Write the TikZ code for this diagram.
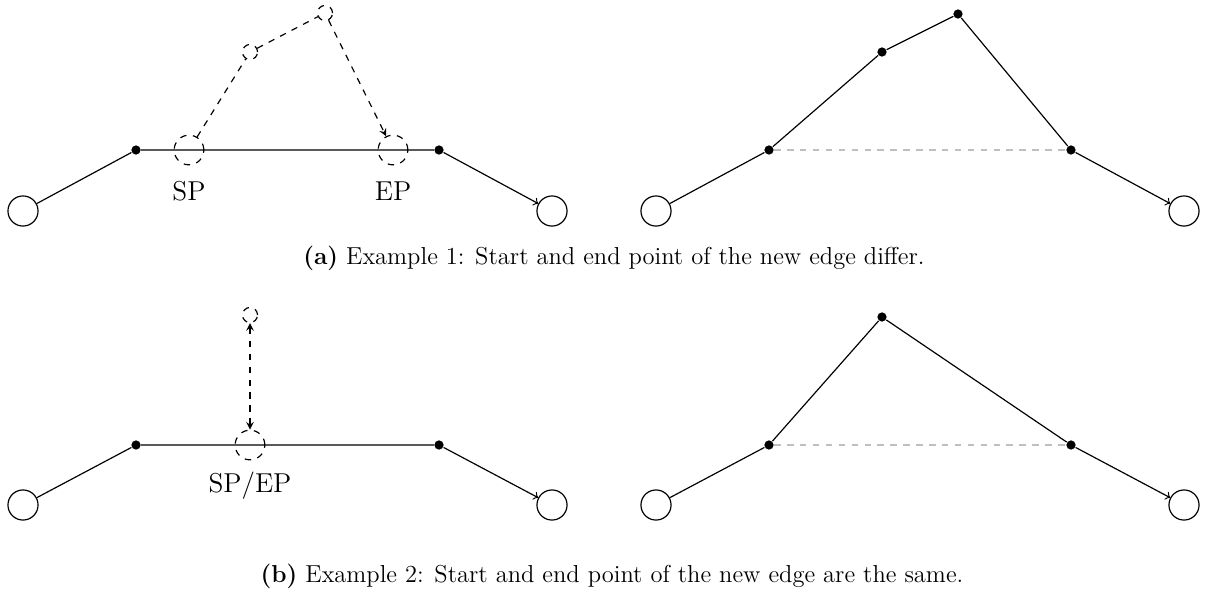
\documentclass[tikz,border=0pt]{standalone}
\usepackage{tikz}

\tikzset{
  endvertex/.style={circle, draw, inner sep=0pt, minimum size=14pt},
  bendpoint/.style={circle, fill=black, inner sep=0pt, minimum size=4.3pt},
  bigmarker/.style={circle, draw, dashed, inner sep=0pt, minimum size=13.8pt},
  smallmarker/.style={circle, draw, dashed, inner sep=0pt, minimum size=7pt},
  oldedge/.style={draw=black!25, dashed},
  moveline/.style={dashed, -stealth},
  pointlabel/.style={font=\fontsize{12.7}{15}\selectfont},
  caption/.style={font=\fontsize{11.4}{14}\selectfont},
}

\begin{document}
\begin{tikzpicture}[x=0.465pt, y=-0.465pt, line width=0.55pt]
  \useasboundingbox (0,0) rectangle (1206,595);

  % Example 1, before: dragging from SP over two points to EP
  \node[endvertex] (aL) at (23,211) {};
  \node[bendpoint] (a1) at (136,150) {};
  \node[bendpoint] (a2) at (439,150) {};
  \node[endvertex] (aR) at (552,211) {};
  \draw (aL) -- (a1) -- (a2);
  \draw[->] (a2) -- (aR);

  \node[bigmarker] (sp) at (189,150) {};
  \node[bigmarker] (ep) at (393,150) {};
  \node[smallmarker] (w1) at (250,52) {};
  \node[smallmarker] (w2) at (325,13) {};
  \draw[moveline] (sp) -- (w1) -- (w2) -- (ep);
  \node[pointlabel] (splbl) at (189,191) {SP};
  \node[pointlabel] (eplbl) at (393,191) {EP};

  % Example 1, after
  \node[endvertex] (bL) at (656,211) {};
  \node[bendpoint] (b1) at (769,150) {};
  \node[bendpoint] (b2) at (882,52) {};
  \node[bendpoint] (b3) at (958,14) {};
  \node[bendpoint] (b4) at (1071,150) {};
  \node[endvertex] (bR) at (1184,211) {};
  \draw[oldedge] (b1) -- (b4);
  \draw (bL) -- (b1) -- (b2) -- (b3) -- (b4);
  \draw[->] (b4) -- (bR);

  \node[caption] (capa) at (614,258) {\textbf{(a)} Example 1: Start and end point of the new edge differ.};

  % Example 2, before: SP and EP coincide
  \node[endvertex] (cL) at (23,505) {};
  \node[bendpoint] (c1) at (136,445) {};
  \node[bendpoint] (c2) at (439,445) {};
  \node[endvertex] (cR) at (552,505) {};
  \draw (cL) -- (c1) -- (c2);
  \draw[->] (c2) -- (cR);

  \node[bigmarker] (spep) at (250,445) {};
  \node[smallmarker] (w3) at (250,315) {};
  \draw[moveline, stealth-stealth] (w3) -- (spep);
  \node[pointlabel] (speplbl) at (250,486) {SP/EP};

  % Example 2, after
  \node[endvertex] (dL) at (656,505) {};
  \node[bendpoint] (d1) at (769,445) {};
  \node[bendpoint] (d2) at (882,317) {};
  \node[bendpoint] (d3) at (1071,445) {};
  \node[endvertex] (dR) at (1184,505) {};
  \draw[oldedge] (d1) -- (d3);
  \draw (dL) -- (d1) -- (d2) -- (d3);
  \draw[->] (d3) -- (dR);

  \node[caption] (capb) at (612,576) {\textbf{(b)} Example 2: Start and end point of the new edge are the same.};
\end{tikzpicture}
\end{document}
